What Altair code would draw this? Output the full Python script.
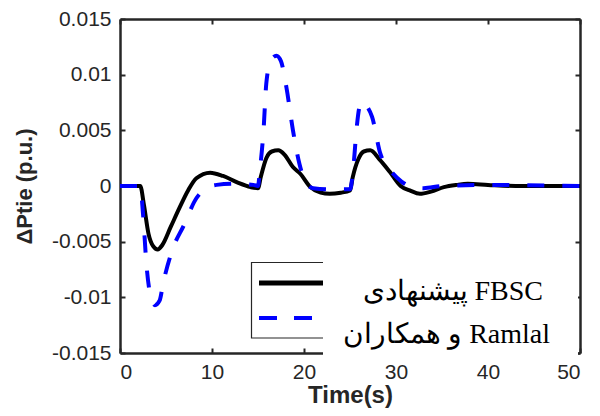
import altair as alt
import pandas as pd

# ---- data ----
t_fbsc = [0, 2.2, 2.6, 3.1, 3.6, 4.1, 4.6, 5.5, 6.5, 7.4, 8.3, 9.8, 11.2, 12.8, 14.2, 15.0,
          15.3, 15.9, 16.5, 17.2, 17.9, 18.8, 19.6, 20.7, 21.8, 22.8, 24.0, 25.0,
          25.3, 25.9, 26.5, 27.2, 28.2, 29.3, 30.5, 31.5, 32.6, 33.8, 35.2, 36.6, 37.8, 40.0, 43.0, 50.0]
y_fbsc = [0, 0, -0.0017, -0.0043, -0.0054, -0.0057, -0.0053, -0.0037, -0.0019, -0.0004, 0.0007, 0.0012,
          0.0009, 0.0003, -0.0001, -0.0002,
          0.0008, 0.0025, 0.0031, 0.0032, 0.0028, 0.0017, 0.0011, -0.0001, -0.0006, -0.0007, -0.0006, -0.0004,
          0.0008, 0.0024, 0.0031, 0.0032, 0.0024, 0.0013, 0.0, -0.0004, -0.0007, -0.0005, -0.0001, 0.0001,
          0.0002, 0.0001, 0.0, 0.0]

t_ramlal = [0, 2.2, 2.5, 2.9, 3.3, 3.8, 4.3, 4.7, 5.8, 6.9, 8.3, 9.4, 10.5, 12.5, 14.5, 15.0,
            15.2, 15.6, 15.9, 16.4, 17.0, 17.5, 18.1, 18.8, 19.5, 20.2, 21.0, 23.0, 25.0,
            25.4, 25.7, 26.0, 26.3, 26.7, 27.4, 28.3, 29.7, 30.6, 31.8, 33.0, 35.0, 40.0, 50.0]
y_ramlal = [0, 0, -0.0025, -0.0073, -0.0098, -0.0107, -0.0103, -0.0087, -0.0055, -0.0036, -0.0011, -0.0002,
            0.0001, 0.0002, 0.0001, 0.0,
            0.0014, 0.005, 0.0092, 0.0113, 0.0117, 0.0112, 0.0088, 0.005, 0.002, 0.0003, -0.0002, -0.0003, -0.0003,
            0.002, 0.005, 0.007, 0.0076, 0.0073, 0.0062, 0.0029, 0.0011, 0.0004, -0.0001, -0.0002, 0.0, 0.0001, 0.0]

x_ticks = [0, 10, 20, 30, 40, 50]
y_ticks = [-0.015, -0.01, -0.005, 0, 0.005, 0.01, 0.015]

# legend texts (logical order arranged so that the LTR SVG line shows the Persian part on the left)
label_fbsc = "پیشنهادی FBSC"
label_ramlal = "و همکاران Ramlal"
x_title = "Time(s)"
y_title = "ΔPtie (p.u.)"

df_f = pd.DataFrame({"t": t_fbsc, "y": y_fbsc})
df_r = pd.DataFrame({"t": t_ramlal, "y": y_ramlal})
one = pd.DataFrame({"a": [0]})

AX = "#262626"
SANS = "Liberation Sans, Arial, Helvetica, sans-serif"
SERIF = "Times New Roman, Liberation Serif, serif"

xs = alt.Scale(domain=[0, 50], nice=False, zero=False)
ys = alt.Scale(domain=[-0.015, 0.015], nice=False, zero=False)


def main_x():
    return alt.Axis(orient="bottom", values=x_ticks, ticks=False, grid=False, domain=True,
                    domainColor=AX, domainWidth=2.5, labelColor=AX, labelFont=SANS, labelFontSize=21,
                    labelPadding=8, title=x_title, titleFont=SANS, titleFontSize=24,
                    titleFontWeight="bold", titleColor=AX, titlePadding=1, zindex=0)


def main_y():
    return alt.Axis(orient="left", values=y_ticks, ticks=False, grid=False, domain=True,
                    domainColor=AX, domainWidth=2.5, labelColor=AX, labelFont=SANS, labelFontSize=21,
                    labelPadding=9, labelExpr="'' + datum.value",
                    title=y_title, titleFont=SANS, titleFontSize=22,
                    titleFontWeight="bold", titleColor=AX, titlePadding=15, zindex=0)


def frame_axis(orient):
    return alt.Axis(orient=orient, ticks=False, labels=False, grid=False, domain=True,
                    domainColor=AX, domainWidth=2.5, title=None, zindex=0)


def tick_axis(orient, vals):
    return alt.Axis(orient=orient, values=vals, ticks=True, tickSize=5, tickWidth=2, tickColor=AX,
                    labels=False, grid=False, domain=False, title=None, offset=-5, zindex=0)


black = alt.Chart(df_f).mark_line(color="black", strokeWidth=4, interpolate="monotone").encode(
    x=alt.X("t:Q", scale=xs, axis=main_x()),
    y=alt.Y("y:Q", scale=ys, axis=main_y()),
)

blue = alt.Chart(df_r).mark_line(color="#0000FF", strokeWidth=4, strokeDash=[17, 18], strokeCap="butt",
                                 interpolate="monotone").encode(
    x=alt.X("t:Q", scale=xs, axis=frame_axis("top")),
    y=alt.Y("y:Q", scale=ys, axis=frame_axis("right")),
)

ticks_bl = alt.Chart(df_f).mark_line(strokeOpacity=0).encode(
    x=alt.X("t:Q", scale=xs, axis=tick_axis("bottom", x_ticks)),
    y=alt.Y("y:Q", scale=ys, axis=tick_axis("left", y_ticks)),
)

ticks_tr = alt.Chart(df_f).mark_line(strokeOpacity=0).encode(
    x=alt.X("t:Q", scale=xs, axis=tick_axis("top", x_ticks)),
    y=alt.Y("y:Q", scale=ys, axis=tick_axis("right", y_ticks)),
)

legend_box = alt.Chart(one).mark_rect(fill="white", stroke=AX, strokeWidth=1.2).encode(
    x=alt.value(131.5), x2=alt.value(290), y=alt.value(243.5), y2=alt.value(319)
)
legend_black = alt.Chart(one).mark_rule(color="black", strokeWidth=5).encode(
    x=alt.value(139), x2=alt.value(215), y=alt.value(264)
)
legend_blue = alt.Chart(one).mark_rule(color="#0000FF", strokeWidth=4, strokeDash=[18, 17],
                                       strokeCap="butt").encode(
    x=alt.value(139), x2=alt.value(215), y=alt.value(299)
)
white_box = alt.Chart(one).mark_rect(fill="white").encode(
    x=alt.value(203), x2=alt.value(458), y=alt.value(239), y2=alt.value(339)
)
text1 = alt.Chart(one).mark_text(text=label_fbsc, font=SERIF, fontSize=28, color="black",
                                 align="right", baseline="alphabetic").encode(
    x=alt.value(423), y=alt.value(281)
)
text2 = alt.Chart(one).mark_text(text=label_ramlal, font=SERIF, fontSize=28, color="black",
                                 align="right", baseline="alphabetic").encode(
    x=alt.value(430), y=alt.value(324)
)

chart = alt.layer(
    black, blue, ticks_bl, ticks_tr, legend_box, legend_black, legend_blue, white_box, text1, text2
).resolve_axis(x="independent", y="independent").properties(
    width=460, height=334,
    autosize=alt.AutoSizeParams(type="none"),
    padding={"left": 112, "top": 11, "right": 12, "bottom": 55},
).configure_view(stroke=None)

chart.save("out.html", embed_options={"renderer": "svg", "actions": False})
